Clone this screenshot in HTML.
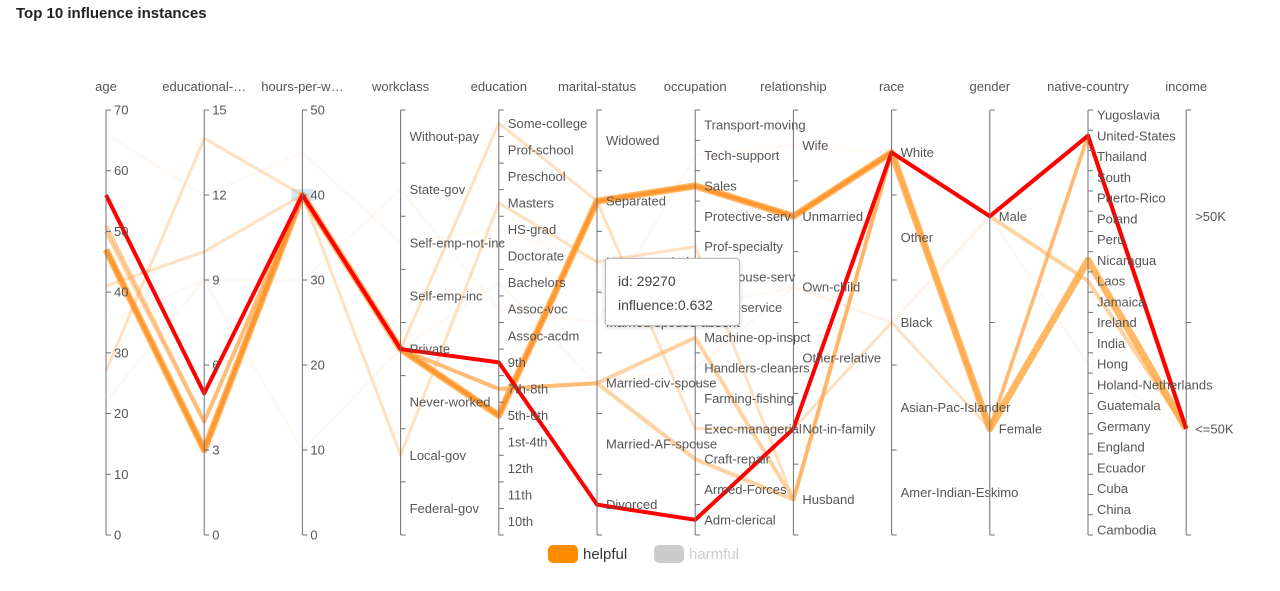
<!DOCTYPE html>
<html><head><meta charset="utf-8"><style>
body{margin:0;background:#fff;width:1280px;height:591px;overflow:hidden;font-family:"Liberation Sans",sans-serif}
#title{position:absolute;left:16px;top:5px;font-size:15px;font-weight:bold;color:#222}
#tip{position:absolute;left:605px;top:258px;width:135px;height:68px;background:#fff;border:1px solid #bbb;border-radius:4px;box-shadow:0 1px 4px rgba(0,0,0,.2);font-size:14px;color:#444;line-height:24px;box-sizing:border-box;padding:10px 0 0 12px}
</style></head><body>
<div id="title">Top 10 influence instances</div>
<svg id="chart" width="1280" height="591" style="position:absolute;left:0;top:0"></svg>
<div id="tip">id: 29270<br>influence:0.632</div>
<script>
const dims=["age","educational-num","hours-per-week","workclass","education","marital-status","occupation","relationship","race","gender","native-country","income"];
const dimLabels=["age","educational-…","hours-per-w…","workclass","education","marital-status","occupation","relationship","race","gender","native-country","income"];
const ageRange=[0,70],eduNumRange=[0,15],hoursRange=[0,50];
const ageTicks=[0,10,20,30,40,50,60,70],eduNumTicks=[0,3,6,9,12,15],hoursTicks=[0,10,20,30,40,50];
const workclassCats=["Federal-gov","Local-gov","Never-worked","Private","Self-emp-inc","Self-emp-not-inc","State-gov","Without-pay"];
const educationCats=["10th","11th","12th","1st-4th","5th-6th","7th-8th","9th","Assoc-acdm","Assoc-voc","Bachelors","Doctorate","HS-grad","Masters","Preschool","Prof-school","Some-college"];
const maritalCats=["Divorced","Married-AF-spouse","Married-civ-spouse","Married-spouse-absent","Never-married","Separated","Widowed"];
const occupationCats=["Adm-clerical","Armed-Forces","Craft-repair","Exec-managerial","Farming-fishing","Handlers-cleaners","Machine-op-inspct","Other-service","Priv-house-serv","Prof-specialty","Protective-serv","Sales","Tech-support","Transport-moving"];
const relationshipCats=["Husband","Not-in-family","Other-relative","Own-child","Unmarried","Wife"];
const raceCats=["Amer-Indian-Eskimo","Asian-Pac-Islander","Black","Other","White"];
const genderCats=["Female","Male"];
const countryCats=["Cambodia","China","Cuba","Ecuador","England","Germany","Guatemala","Holand-Netherlands","Hong","India","Ireland","Jamaica","Laos","Nicaragua","Peru","Poland","Puerto-Rico","South","Thailand","United-States","Yugoslavia"];
const incomeCats=["<=50K",">50K"];
const instances=[
[66,12,45,"Self-emp-not-inc","HS-grad","Never-married","Other-service","Own-child","Black","Male","United-States","<=50K"],
[22,9,10,"Private","Bachelors","Married-civ-spouse","Handlers-cleaners","Own-child","Black","Male","Hong","<=50K"],
[35,9,30,"State-gov","Assoc-voc","Married-spouse-absent","Tech-support","Wife","White","Male","United-States","<=50K"],
[41,10,40,"Private","Some-college","Separated","Exec-managerial","Not-in-family","Black","Female","United-States","<=50K"],
[27,14,40,"Local-gov","Masters","Never-married","Prof-specialty","Husband","White","Female","United-States","<=50K"],
[50,4,40,"Private","7th-8th","Married-civ-spouse","Craft-repair","Husband","White","Male","Laos","<=50K"],
[51,4,40,"Private","7th-8th","Married-civ-spouse","Machine-op-inspct","Husband","White","Female","United-States","<=50K"],
[47,3,40,"Private","5th-6th","Separated","Sales","Unmarried","White","Male","United-States","<=50K"],
[47,3,40,"Private","5th-6th","Separated","Sales","Unmarried","White","Female","Nicaragua","<=50K"],
[56,5,40,"Private","9th","Divorced","Adm-clerical","Not-in-family","White","Male","United-States","<=50K"]];
const influence=[0.05,0.05,0.05,0.12,0.2,0.25,0.3,0.5,0.45,0.632];

const NS="http://www.w3.org/2000/svg",svg=document.getElementById("chart");
const X0=106,DX=98.2,TOP=110,BOT=535;
const numRanges=[ageRange,eduNumRange,hoursRange],numTicks=[ageTicks,eduNumTicks,hoursTicks];
const cats=[null,null,null,workclassCats,educationCats,maritalCats,occupationCats,relationshipCats,raceCats,genderCats,countryCats,incomeCats];
function ax(i){return X0+i*DX;}
function ay(i,v){if(i<3){const r=numRanges[i];return BOT-(v-r[0])/(r[1]-r[0])*(BOT-TOP);}
 const c=cats[i],k=c.indexOf(v);
 if(i===10)return BOT-5-k*(BOT-TOP-10)/(c.length-1);
 const b=(BOT-TOP)/c.length;return BOT-(k+0.5)*b;}
function mk(t,a){const e=document.createElementNS(NS,t);for(const k in a)e.setAttribute(k,a[k]);svg.appendChild(e);return e;}
const hl=mk("rect",{x:ax(2)-11,y:ay(2,40)-6,width:22,height:12,fill:"#d6e6f4"});


function col(f){if(f>=0.6)return["#ff0000",1,4];if(f>=0.5)return["#ff5a00",1,4];if(f>=0.4)return["#ffa53c",0.8,7];if(f>=0.25)return["#ffa54a",0.5,4];if(f>=0.1)return["#ffa54a",0.35,3];return["#ffb070",0.07,3];}
instances.forEach((r,n)=>{const [c,o,w]=col(influence[n]);
 const d=r.map((v,i)=>(i?"L":"M")+ax(i)+","+ay(i,v)).join(" ");
 const p=mk("path",{d:d,fill:"none",stroke:c,"stroke-opacity":o,"stroke-width":w,"stroke-linejoin":"round"});
 
 });
dims.forEach((dname,i)=>{const x=ax(i);
 const t=mk("text",{x:x,y:91,"text-anchor":"middle","font-size":13,fill:"#555"});t.textContent=dimLabels[i];
 
 
 const l=mk("line",{x1:x,y1:TOP,x2:x,y2:BOT,stroke:"#6e7079","stroke-width":1});
 
 
 let tickYs=[],labs=[];
 if(i<3){numTicks[i].forEach(v=>{tickYs.push(ay(i,v));labs.push([v,ay(i,v)]);});}
 else{const c=cats[i],b=(BOT-TOP)/c.length;for(let k=0;k<=c.length;k++)tickYs.push(BOT-k*b);c.forEach(v=>labs.push([v,ay(i,v)]));}
 tickYs.forEach(y=>{const tk=mk("line",{x1:x,y1:y,x2:x+5,y2:y,stroke:"#6e7079"});
  
  });
 labs.forEach(([v,y])=>{const tl=mk("text",{x:x+(i<3?8:9),y:y+4.5,"font-size":13,fill:"#555"});tl.textContent=v;
  
  });
});
const lg1=mk("rect",{x:548,y:545,width:30,height:18,rx:5,fill:"#ff8c00"});


const lt1=mk("text",{x:583,y:559,"font-size":15,fill:"#333"});lt1.textContent="helpful";


const lg2=mk("rect",{x:654,y:545,width:30,height:18,rx:5,fill:"#ccc"});


const lt2=mk("text",{x:689,y:559,"font-size":15,fill:"#ccc"});lt2.textContent="harmful";


</script>
</body></html>
